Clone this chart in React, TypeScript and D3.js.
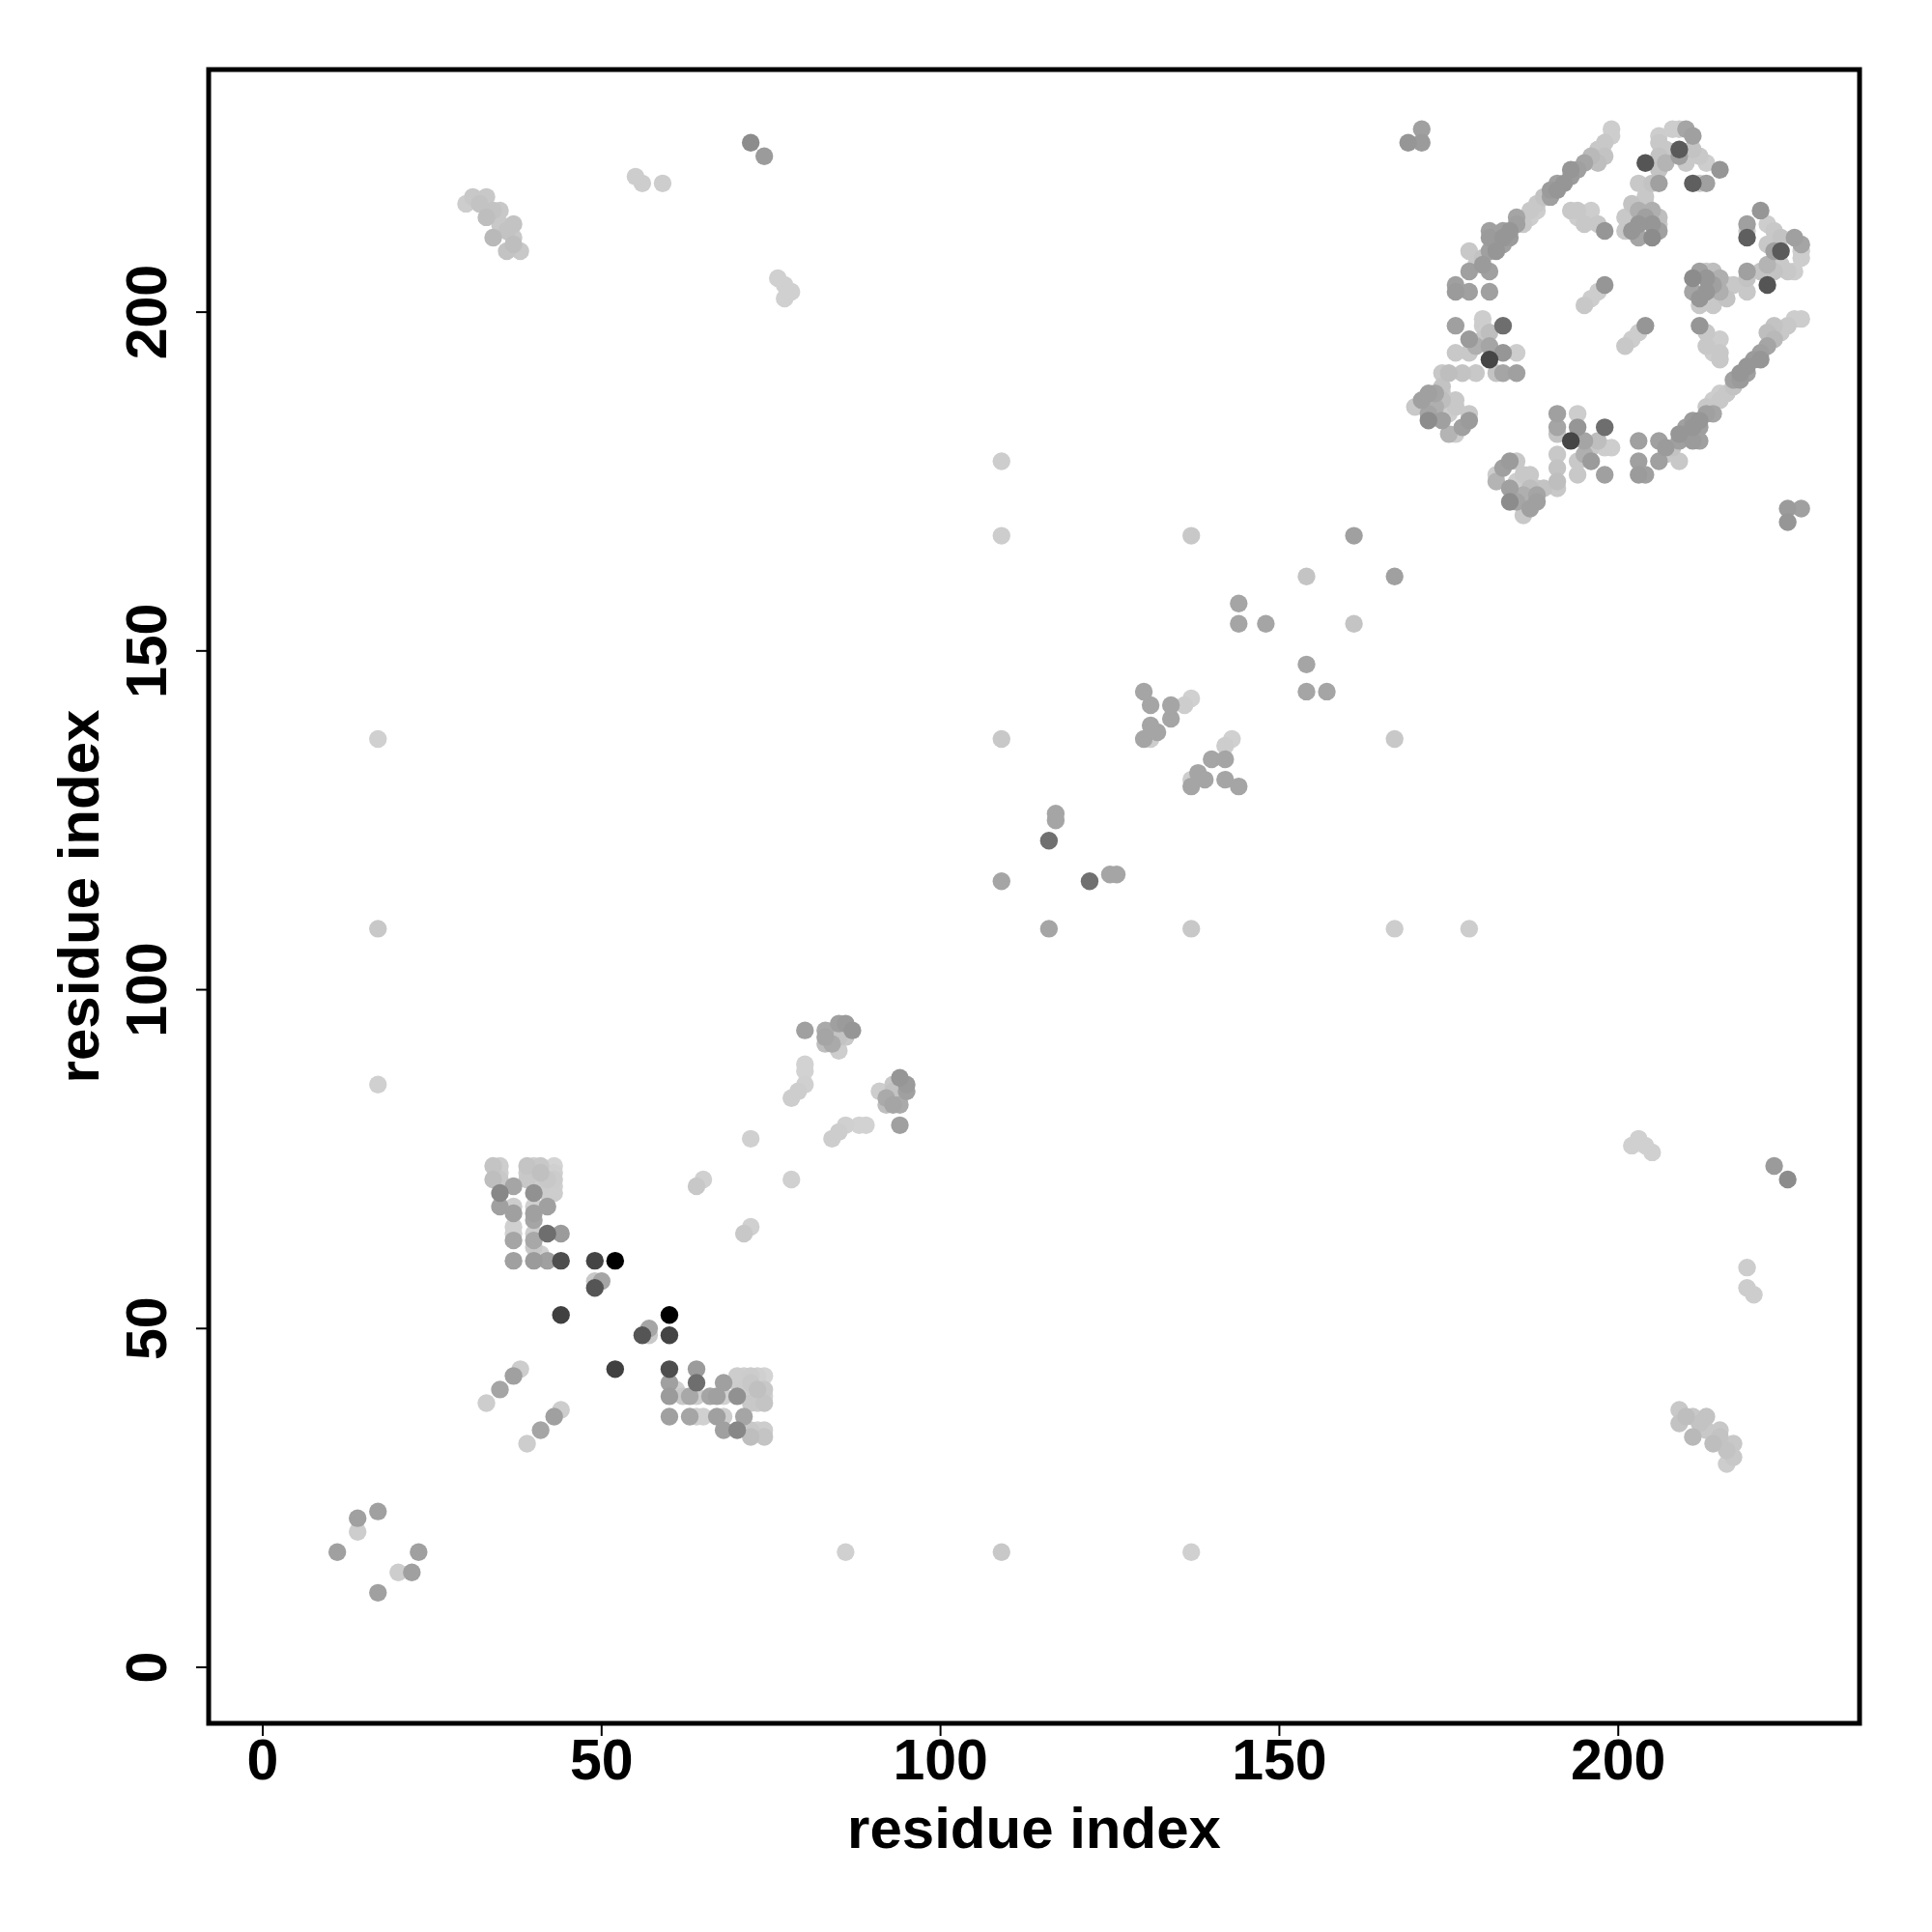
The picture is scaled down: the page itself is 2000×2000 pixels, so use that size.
import React from 'react';
import * as d3 from 'd3';

const xTicks = [0, 50, 100, 150, 200];
const yTicks = [0, 50, 100, 150, 200];
const xTitle = 'residue index';
const yTitle = 'residue index';

// Contacts read from the lower triangle (i > j): [i, j, gray level]; the map is symmetric.
const localContacts = [
  [17, 11, 160], [20, 14, 205], [22, 14, 160], [23, 17, 160],
  [39, 33, 205], [41, 35, 165], [43, 37, 160], [44, 38, 205],
  [52, 44, 64], [56, 49, 85], [57, 49, 200], [57, 50, 165], [60, 49, 68], [60, 52, 0], [60, 44, 78],
];

const sheetContacts = [
  [64, 44, 155], [64, 42, 110], [60, 42, 160], [61, 41, 208], [60, 40, 155], [62, 40, 200], [63, 40, 168],
  [64, 40, 205], [66, 40, 165], [67, 40, 160], [68, 40, 208], [68, 42, 160], [60, 37, 160], [63, 37, 165],
  [64, 37, 208], [65, 37, 208], [67, 37, 160], [68, 37, 205], [71, 37, 165], [68, 35, 160], [70, 35, 135],
  [72, 35, 200], [73, 35, 208], [74, 35, 205], [72, 34, 190], [74, 34, 196], [70, 43, 205], [71, 43, 208],
  [72, 43, 204], [73, 43, 208], [74, 43, 212], [72, 42, 200], [74, 41, 200], [74, 40, 208], [73, 39, 204],
  [72, 39, 200], [70, 40, 145], [71, 41, 204], [73, 41, 192], [70, 42, 205], [74, 39, 196],
];

const midContacts = [
  [72, 65, 208], [71, 64, 200], [78, 72, 208],
  [84, 78, 205], [85, 79, 205], [86, 80, 208], [88, 80, 210], [89, 80, 210], [94, 80, 160],
  [94, 87, 150], [95, 86, 155], [93, 86, 200], [91, 85, 205], [93, 85, 195], [92, 84, 170], [94, 84, 205],
  [93, 83, 165], [94, 83, 170], [92, 83, 190], [95, 85, 160],
  [86, 17, 208], [109, 17, 200], [137, 17, 208],
  [116, 109, 165], [137, 109, 200], [167, 109, 205], [178, 109, 205],
  [122, 116, 112], [125, 117, 165], [126, 117, 165],
  [137, 130, 165], [137, 131, 205], [138, 132, 165], [139, 131, 165], [140, 134, 165], [142, 134, 165],
  [142, 131, 165], [144, 130, 165], [143, 137, 208], [142, 136, 205],
  [154, 148, 165], [154, 144, 165], [157, 144, 165], [161, 154, 196], [167, 161, 160], [167, 137, 200],
];

const farContacts = [
  [209, 38, 200], [209, 36, 195], [210, 37, 190], [211, 37, 200], [211, 34, 185], [212, 36, 195],
  [213, 37, 195], [213, 35, 200], [215, 35, 200], [215, 34, 195], [214, 33, 190], [216, 32, 195],
  [217, 33, 200], [217, 31, 200], [216, 30, 205],
  [202, 77, 208], [203, 78, 208], [204, 77, 208], [205, 76, 208],
  [223, 74, 155], [225, 72, 140], [219, 59, 205], [219, 56, 205], [220, 55, 205],
  [225, 171, 155], [227, 171, 160], [225, 169, 150],
];

const ringContacts = [
  // right cluster
  [221, 215, 150], [219, 213, 160], [219, 212, 205], [219, 211, 95], [222, 213, 205], [223, 212, 200],
  [224, 211, 195], [226, 211, 160], [227, 210, 165], [227, 209, 205], [227, 208, 205], [224, 209, 90],
  [223, 209, 160], [222, 210, 200], [222, 207, 180], [223, 206, 195], [225, 206, 200], [226, 206, 205],
  [222, 204, 85], [219, 206, 160], [219, 205, 195], [219, 203, 200], [221, 206, 195], [224, 207, 200],
  // inner cluster
  [211, 205, 140], [212, 206, 160], [213, 205, 150], [214, 204, 160], [215, 203, 175], [216, 204, 200],
  [217, 204, 200], [212, 202, 150], [212, 201, 200], [214, 201, 200], [213, 206, 200], [215, 205, 175],
  [211, 203, 165], [216, 202, 195], [213, 203, 150], [214, 206, 190],
  // band
  [227, 199, 205], [226, 199, 205], [225, 198, 200], [224, 197, 200], [223, 198, 195], [222, 197, 190],
  [223, 196, 185], [222, 195, 165], [221, 194, 160], [221, 193, 150], [220, 193, 155], [219, 192, 150],
  [219, 191, 160], [218, 191, 150], [218, 190, 155], [217, 190, 160],
  [217, 189, 195], [216, 188, 200], [215, 188, 205], [215, 187, 200], [214, 187, 205], [213, 186, 200],
  [214, 185, 165], [213, 185, 160], [212, 184, 150], [211, 184, 155], [211, 183, 150], [210, 183, 160],
  [210, 182, 155], [209, 182, 150], [209, 181, 160], [212, 183, 160], [212, 181, 160], [211, 181, 155],
  [209, 178, 200], [208, 180, 195], [207, 179, 200],
  // vertical light group
  [212, 198, 150], [213, 197, 200], [215, 196, 205], [215, 194, 200], [215, 193, 200], [213, 195, 200],
  [214, 194, 205],
  // inner diagonal
  [204, 198, 150], [203, 197, 205], [202, 196, 205], [201, 195, 200],
  // bottom of ring
  [203, 181, 160], [203, 178, 160], [203, 176, 155], [204, 176, 160], [206, 181, 160], [207, 180, 155],
  [206, 178, 160], [198, 183, 110], [193, 181, 70],
  [191, 185, 160], [191, 183, 165], [191, 182, 195], [194, 185, 205], [194, 183, 150], [195, 181, 165],
  [196, 180, 200], [198, 180, 205], [199, 180, 205], [196, 178, 155], [194, 178, 200], [198, 176, 160],
  [194, 176, 200], [191, 179, 200], [191, 177, 195], [191, 175, 190], [191, 174, 200], [197, 181, 190],
  [195, 179, 175],
  // near-diagonal corner
  [182, 176, 205], [183, 177, 160], [184, 178, 155], [185, 178, 200], [184, 174, 160], [185, 175, 205],
  [186, 176, 200], [187, 176, 200], [188, 174, 200], [188, 172, 160], [187, 171, 160], [186, 170, 200],
  [188, 173, 165], [184, 172, 140], [182, 175, 180], [186, 173, 175], [185, 172, 165], [187, 174, 190],
  [189, 174, 195],
];

export default function App() {
  const x = d3.scaleLinear().domain([-7.98, 235.6]).range([216, 1925]);
  const y = d3.scaleLinear().domain([-8.27, 235.8]).range([1784, 72]);

  const lower = [...localContacts, ...sheetContacts, ...midContacts, ...farContacts, ...ringContacts];
  const pts = lower
    .flatMap(([i, j, g]) => [
      { a: i, b: j, g },
      { a: j, b: i, g },
    ])
    .sort((p, q) => q.g - p.g);

  const font = '"Liberation Sans", Arial, Helvetica, sans-serif';
  const [x0, x1] = x.range();
  const [y0, y1] = y.range();

  return (
    <svg
      width={2000}
      height={2000}
      style={{ position: 'absolute', left: 0, top: 0, background: '#fff' }}
      fontFamily={font}
      fontWeight="bold"
    >
      <rect x={0} y={0} width={2000} height={2000} fill="#fff" />
      <g>
        {pts.map((p, k) => {
          const c = d3.rgb(p.g, p.g, p.g).formatHex();
          return <circle key={k} cx={x(p.a)} cy={y(p.b)} r={9.2} fill={c} />;
        })}
      </g>
      <rect x={x0} y={y1} width={x1 - x0} height={y0 - y1} fill="none" stroke="#000" strokeWidth={5} />
      {xTicks.map((t) => (
        <g key={'x' + t}>
          <line x1={x(t)} x2={x(t)} y1={y0} y2={y0 + 13} stroke="#000" strokeWidth={2} />
          <text x={x(t)} y={1842} textAnchor="middle" fontSize={59}>
            {t}
          </text>
        </g>
      ))}
      {yTicks.map((t) => (
        <g key={'y' + t}>
          <line x1={x0} x2={x0 - 13} y1={y(t)} y2={y(t)} stroke="#000" strokeWidth={2} />
          <text
            transform={`translate(172,${y(t)}) rotate(-90)`}
            textAnchor="middle"
            fontSize={59}
          >
            {t}
          </text>
        </g>
      ))}
      <text x={(x0 + x1) / 2} y={1913} textAnchor="middle" fontSize={60}>
        {xTitle}
      </text>
      <text transform={`translate(102,${(y0 + y1) / 2}) rotate(-90)`} textAnchor="middle" fontSize={60}>
        {yTitle}
      </text>
    </svg>
  );
}
